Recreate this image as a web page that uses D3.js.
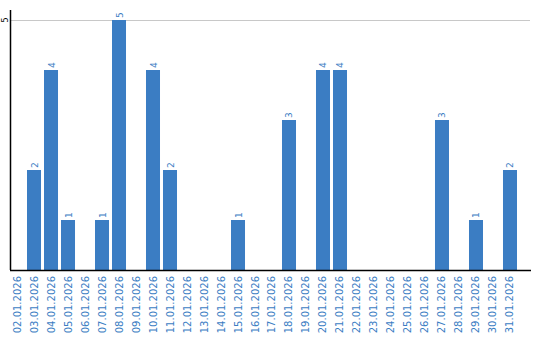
<!DOCTYPE html>
<html><head><meta charset="utf-8">
<script src="https://cdn.jsdelivr.net/npm/d3@7"></script>
<style>body{margin:0;background:#fff}svg{display:block}</style>
</head><body>
<svg id="c" width="540" height="340"></svg>
<script>
const categories = ["02.01.2026","03.01.2026","04.01.2026","05.01.2026","06.01.2026","07.01.2026","08.01.2026","09.01.2026","10.01.2026","11.01.2026","12.01.2026","13.01.2026","14.01.2026","15.01.2026","16.01.2026","17.01.2026","18.01.2026","19.01.2026","20.01.2026","21.01.2026","22.01.2026","23.01.2026","24.01.2026","25.01.2026","26.01.2026","27.01.2026","28.01.2026","29.01.2026","30.01.2026","31.01.2026"];
const values = [0,2,4,1,0,1,5,0,4,2,0,0,0,1,0,0,3,0,4,4,0,0,0,0,0,3,0,1,0,2];
const yTicks = [5];

const svg = d3.select("#c");
const blue = "#3b7dc3";
const x = d3.scaleBand().domain(categories).range([10, 517]).paddingInner(0.176).paddingOuter(0);
const y = d3.scaleLinear().domain([0, 5.2]).range([270, 10]);

// grid
svg.append("g").selectAll("line").data(yTicks).join("line")
  .attr("x1", 10).attr("x2", 530).attr("y1", d => y(d)).attr("y2", d => y(d))
  .attr("stroke", "#c8c8c8").attr("stroke-width", 1).attr("shape-rendering","crispEdges");

// bars
svg.append("g").selectAll("rect").data(values.map((v,i)=>({c:categories[i],v}))).join("rect")
  .filter(d => d.v > 0)
  .attr("x", d => x(d.c)).attr("width", x.bandwidth())
  .attr("y", d => y(d.v)).attr("height", d => y(0) - y(d.v))
  .attr("fill", blue);

// value labels
svg.append("g").selectAll("text").data(values.map((v,i)=>({c:categories[i],v}))).join("text")
  .filter(d => d.v > 0)
  .attr("transform", d => `translate(${x(d.c) + x.bandwidth()/2 + 3.5},${y(d.v) - 2}) rotate(-90)`)
  .attr("font-family", "DejaVu Sans, sans-serif").attr("font-size", 9)
  .attr("fill", blue).text(d => d.v);

// y axis
svg.append("line").attr("x1", 10.5).attr("x2", 10.5).attr("y1", 10).attr("y2", 270)
  .attr("stroke", "#000").attr("stroke-width", 1.5);
svg.append("g").selectAll("text").data(yTicks).join("text")
  .attr("transform", d => `translate(7.5,${y(d)}) rotate(-90)`)
  .attr("text-anchor", "middle")
  .attr("font-family", "DejaVu Sans, sans-serif").attr("font-size", 8)
  .attr("fill", "#000").text(d => d);

// x axis
svg.append("line").attr("x1", 10).attr("x2", 531).attr("y1", 270.5).attr("y2", 270.5)
  .attr("stroke", "#000").attr("stroke-width", 1.5);
svg.append("g").selectAll("text").data(categories).join("text")
  .attr("transform", d => `translate(${x(d) + x.bandwidth()/2},276) rotate(-90)`)
  .attr("text-anchor", "end").attr("dy", "0.35em")
  .attr("font-family", "DejaVu Sans, sans-serif").attr("font-size", 10)
  .attr("fill", blue).text(d => d);
</script>
</body></html>
